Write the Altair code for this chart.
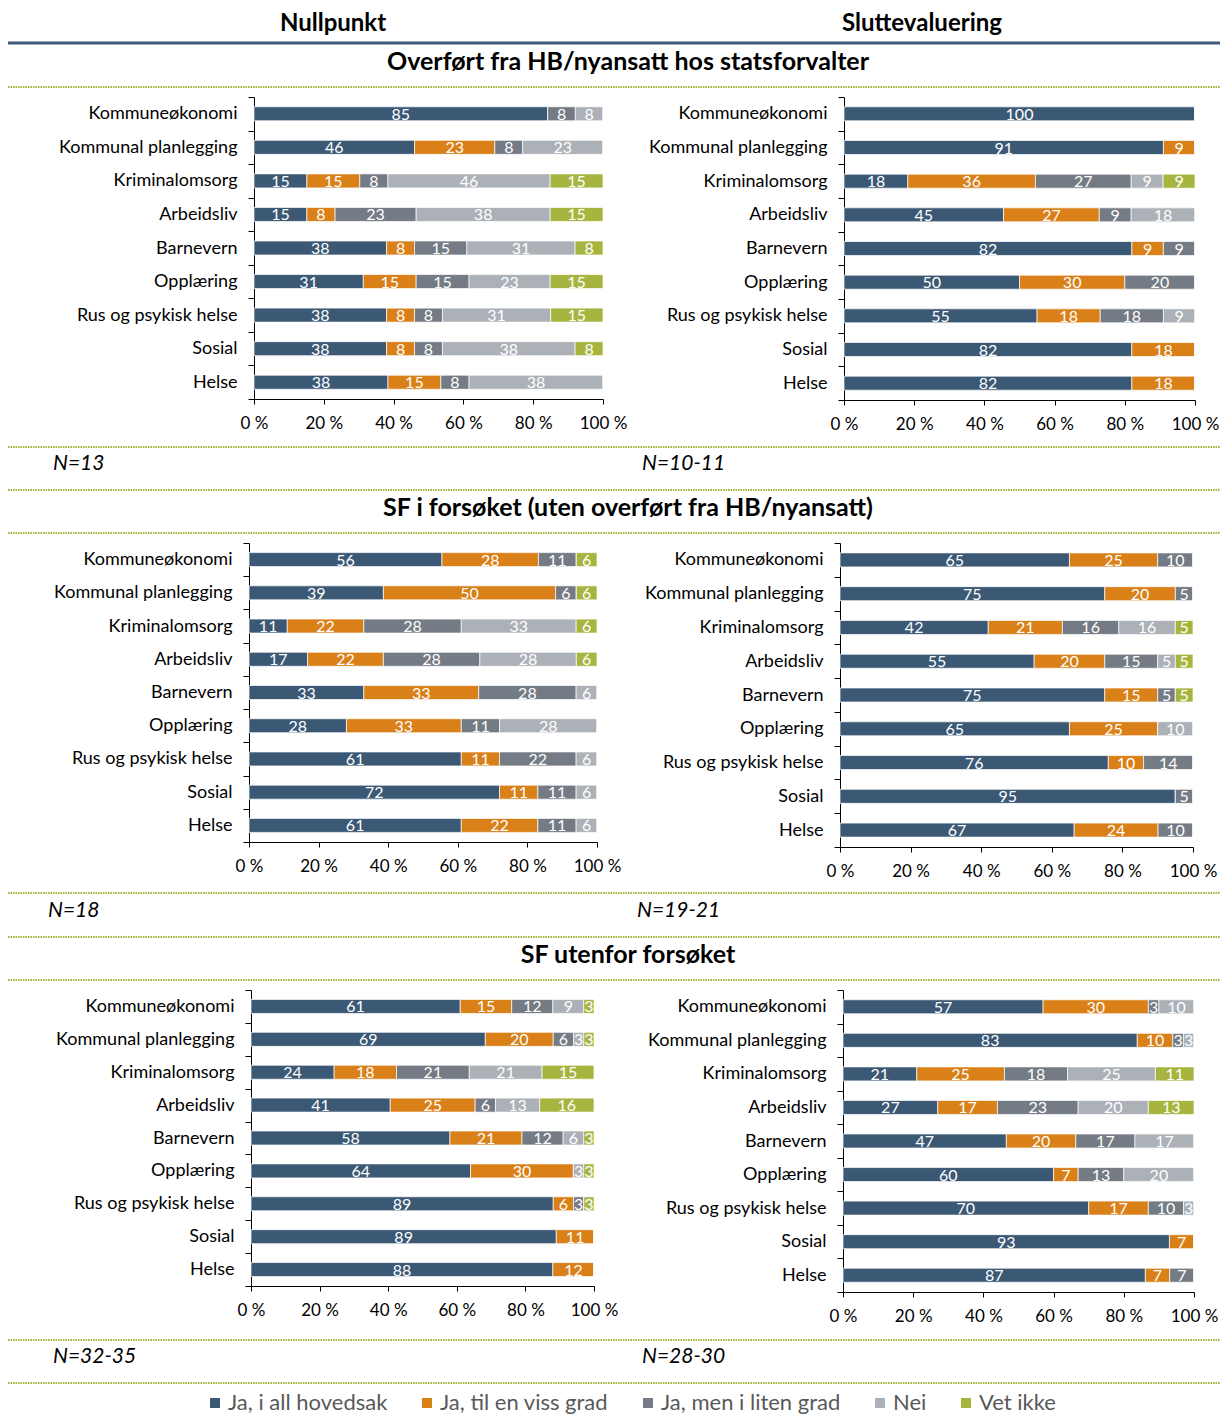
import altair as alt
import pandas as pd

FONT = "Lato"

categories = ["Kommuneøkonomi", "Kommunal planlegging", "Kriminalomsorg", "Arbeidsliv",
              "Barnevern", "Opplæring", "Rus og psykisk helse", "Sosial", "Helse"]
series = ["Ja, i all hovedsak", "Ja, til en viss grad", "Ja, men i liten grad", "Nei", "Vet ikke"]
series_colors = ["#3B5875", "#D98019", "#747B84", "#ABB1B7", "#A7B540"]

column_titles = ["Nullpunkt", "Sluttevaluering"]
section_titles = ["Overført fra HB/nyansatt hos statsforvalter",
                  "SF i forsøket (uten overført fra HB/nyansatt)",
                  "SF utenfor forsøket"]
n_null = ["N=13", "N=18", "N=32-35"]
n_slutt = ["N=10-11", "N=19-21", "N=28-30"]
tick_values = [0, 0.2, 0.4, 0.6, 0.8, 1.0]

# rows follow `categories`, columns follow `series`
overfort_null = [[85, 0, 8, 8, 0], [46, 23, 8, 23, 0], [15, 15, 8, 46, 15], [15, 8, 23, 38, 15],
                 [38, 8, 15, 31, 8], [31, 15, 15, 23, 15], [38, 8, 8, 31, 15], [38, 8, 8, 38, 8],
                 [38, 15, 8, 38, 0]]
overfort_slutt = [[100, 0, 0, 0, 0], [91, 9, 0, 0, 0], [18, 36, 27, 9, 9], [45, 27, 9, 18, 0],
                  [82, 9, 9, 0, 0], [50, 30, 20, 0, 0], [55, 18, 18, 9, 0], [82, 18, 0, 0, 0],
                  [82, 18, 0, 0, 0]]
forsok_null = [[56, 28, 11, 0, 6], [39, 50, 6, 0, 6], [11, 22, 28, 33, 6], [17, 22, 28, 28, 6],
               [33, 33, 28, 6, 0], [28, 33, 11, 28, 0], [61, 11, 22, 6, 0], [72, 11, 11, 6, 0],
               [61, 22, 11, 6, 0]]
forsok_slutt = [[65, 25, 10, 0, 0], [75, 20, 5, 0, 0], [42, 21, 16, 16, 5], [55, 20, 15, 5, 5],
                [75, 15, 5, 0, 5], [65, 25, 0, 10, 0], [76, 10, 14, 0, 0], [95, 0, 5, 0, 0],
                [67, 24, 10, 0, 0]]
utenfor_null = [[61, 15, 12, 9, 3], [69, 20, 6, 3, 3], [24, 18, 21, 21, 15], [41, 25, 6, 13, 16],
                [58, 21, 12, 6, 3], [64, 30, 0, 3, 3], [89, 6, 3, 0, 3], [89, 11, 0, 0, 0],
                [88, 12, 0, 0, 0]]
utenfor_slutt = [[57, 30, 3, 10, 0], [83, 10, 3, 3, 0], [21, 25, 18, 25, 11], [27, 17, 23, 20, 13],
                 [47, 20, 17, 17, 0], [60, 7, 13, 20, 0], [70, 17, 10, 3, 0], [93, 7, 0, 0, 0],
                 [87, 7, 7, 0, 0]]

W, H = 1212, 1407
one = pd.DataFrame({"k": [0]})

legend = alt.Legend(title=None, orient="none", legendX=196, legendY=1384, direction="horizontal",
                    symbolType="square", symbolSize=100, symbolStrokeWidth=0, labelFontSize=22,
                    labelColor="#595959", labelFont=FONT, columnPadding=28, labelOffset=2,
                    labelLimit=400, padding=0)


def make_df(values):
    rows = []
    for ci, cat in enumerate(categories):
        for si, s in enumerate(series):
            rows.append({"kategori": cat, "svar": s, "rekkefolge": si, "verdi": values[ci][si]})
    return pd.DataFrame(rows)


def panel(values, x0, x1, y0, y1):
    """Plot area given in chart pixels: x0..x1, y0..y1."""
    base = alt.Chart(make_df(values)).transform_stack(
        stack="verdi", groupby=["kategori"], as_=["s0", "s1"], offset="normalize",
        sort=[alt.SortField("rekkefolge", order="ascending")]
    ).transform_calculate(sm="(datum.s0 + datum.s1) / 2")
    yenc = alt.Y("kategori:N", sort=categories, title=None,
                 scale=alt.Scale(range=[y0, y1], paddingInner=0, paddingOuter=0),
                 axis=alt.Axis(orient="left", offset=-x0, tickBand="extent", ticks=True, tickSize=6,
                               tickColor="#000000", domainColor="#000000", labelFontSize=18,
                               labelColor="#000000", labelPadding=11, labelFont=FONT,
                               labelLimit=300, grid=False))
    xscale = alt.Scale(domain=[0, 1], nice=False, range=[x0, x1])
    xaxis = alt.Axis(orient="bottom", offset=-(H - y1), values=tick_values,
                     labelExpr="format(datum.value * 100, 'd') + ' %'", labelFlush=False,
                     labelOverlap=False, grid=False, tickSize=5, tickColor="#000000",
                     domainColor="#000000", labelFontSize=17, labelColor="#000000",
                     labelPadding=11, labelFont=FONT)
    bars = base.mark_bar(size=14, stroke="#ffffff", strokeWidth=0.7).encode(
        x=alt.X("s0:Q", scale=xscale, axis=xaxis, title=None),
        x2="s1:Q",
        y=yenc,
        color=alt.Color("svar:N", scale=alt.Scale(domain=series, range=series_colors), legend=legend),
    )
    labels = base.transform_filter("datum.verdi > 0").mark_text(
        color="#ffffff", fontSize=16, font=FONT, baseline="middle", dy=1
    ).encode(
        x=alt.X("sm:Q", scale=xscale, axis=xaxis, title=None),
        y=yenc,
        text="verdi:Q",
    )
    return alt.layer(bars, labels)


def text_layer(s, x, y, size, weight="normal", style="normal", align="center", baseline="middle"):
    return alt.Chart(pd.DataFrame({"t": [s]})).mark_text(
        font=FONT, fontSize=size, fontWeight=weight, fontStyle=style, align=align,
        baseline=baseline, color="#000000"
    ).encode(x=alt.value(x), y=alt.value(y), text="t:N")


def rule_layer(y, color="#A5B23A", width=2, dash=(1.5, 1)):
    kw = dict(color=color, strokeWidth=width)
    if dash:
        kw["strokeDash"] = list(dash)
    return alt.Chart(one).mark_rule(**kw).encode(
        x=alt.value(0), x2=alt.value(W), y=alt.value(y))


# plot areas in chart pixels (x0, x1, y0, y1)
geom = [
    ((246, 595, 89, 391), (836, 1187, 89, 392)),
    ((241, 589, 535, 834), (832, 1185, 535, 839)),
    ((243, 586, 982, 1278), (835, 1186, 982, 1284)),
]
panel_values = [(overfort_null, overfort_slutt), (forsok_null, forsok_slutt),
                (utenfor_null, utenfor_slutt)]

layers = []
for (gl, gr), (vl, vr) in zip(geom, panel_values):
    layers.append(panel(vl, *gl))
    layers.append(panel(vr, *gr))

# column headers, section titles, separators and N labels
layers += [
    text_layer(column_titles[0], 325, 4, 24, weight="bold", baseline="top"),
    text_layer(column_titles[1], 914, 4, 24, weight="bold", baseline="top"),
    rule_layer(35, color="#3E5A78", width=3, dash=None),
    text_layer(section_titles[0], 620, 54, 25, weight="bold"),
    rule_layer(79),
    rule_layer(439),
    text_layer(n_null[0], 45, 456, 21, style="italic", align="left"),
    text_layer(n_slutt[0], 634, 456, 21, style="italic", align="left"),
    rule_layer(482),
    text_layer(section_titles[1], 620, 500, 25, weight="bold"),
    rule_layer(525),
    rule_layer(885),
    text_layer(n_null[1], 40, 903, 21, style="italic", align="left"),
    text_layer(n_slutt[1], 629, 903, 21, style="italic", align="left"),
    rule_layer(929),
    text_layer(section_titles[2], 620, 947, 25, weight="bold"),
    rule_layer(972),
    rule_layer(1332),
    text_layer(n_null[2], 45, 1349, 21, style="italic", align="left"),
    text_layer(n_slutt[2], 634, 1349, 21, style="italic", align="left"),
    rule_layer(1375),
]

chart = alt.layer(*layers).resolve_scale(
    x="independent", y="independent", color="shared"
).resolve_axis(x="independent", y="independent").properties(
    width=W, height=H, padding=0, autosize=alt.AutoSizeParams(type="none")
).configure(font=FONT).configure_view(stroke=None)

chart.save("out.html", embed_options={"renderer": "svg", "actions": False})
